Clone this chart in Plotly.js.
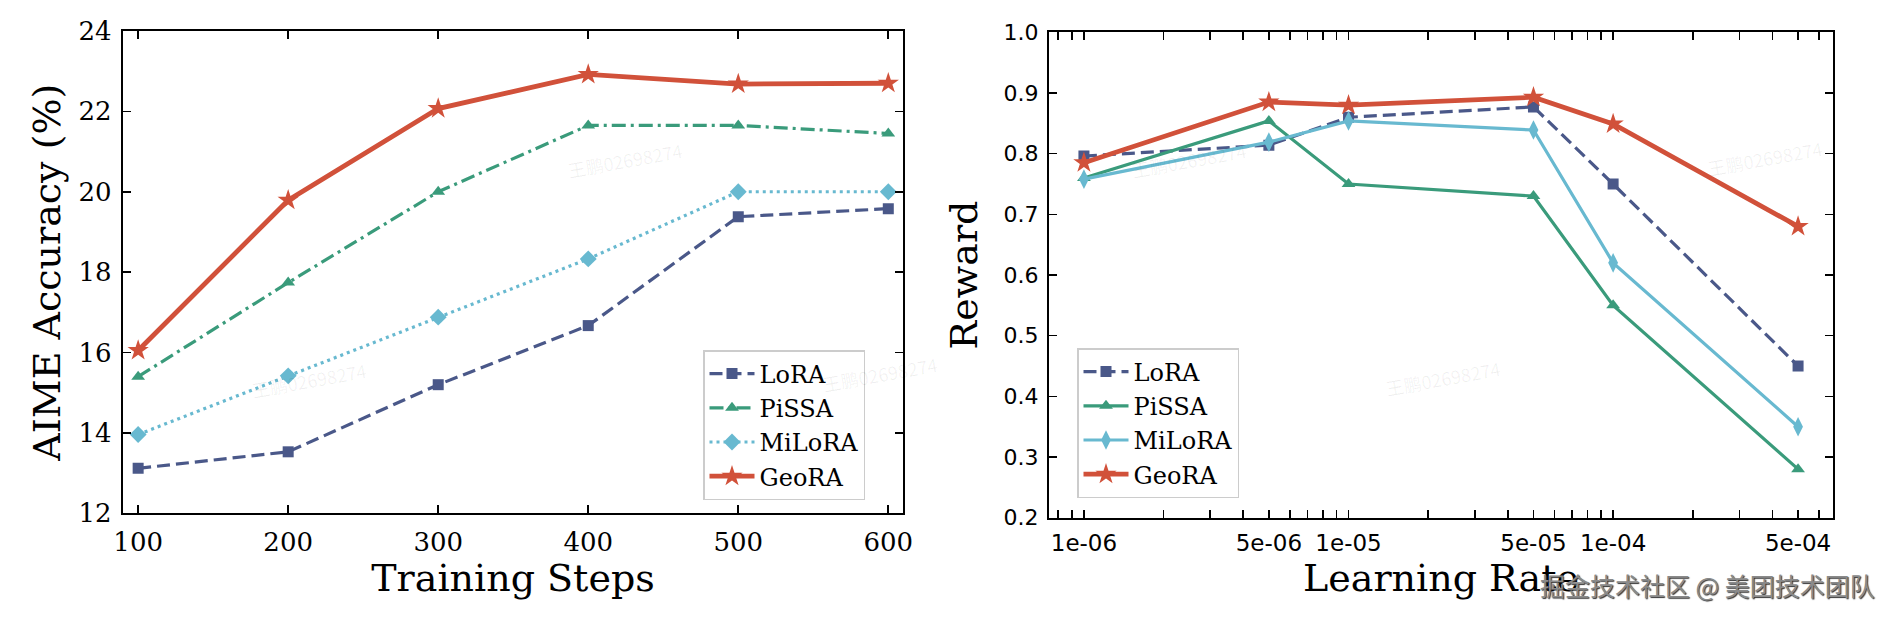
<!DOCTYPE html>
<html>
<head>
<meta charset="utf-8">
<script src="https://cdn.plot.ly/plotly-3.0.1.min.js"></script>
<style>html,body{margin:0;padding:0;background:#fff;}#chart{width:1892px;height:618px;}</style>
</head>
<body>
<div id="chart"></div>
<script>
// ---- data ----
const steps = [100, 200, 300, 400, 500, 600];
const aimeLoRA   = [13.12, 13.53, 15.20, 16.67, 19.38, 19.58];
const aimePiSSA  = [15.40, 17.74, 20.00, 21.65, 21.65, 21.45];
const aimeMiLoRA = [13.96, 15.42, 16.88, 18.33, 20.00, 20.00];
const aimeGeoRA  = [16.05, 19.79, 22.07, 22.92, 22.68, 22.70];

const learningRates = [1e-6, 5e-6, 1e-5, 5e-5, 1e-4, 5e-4];
const lrTickText = ['1e-06', '5e-06', '1e-05', '5e-05', '1e-04', '5e-04'];
const rewardLoRA   = [0.796, 0.814, 0.860, 0.877, 0.750, 0.450];
const rewardPiSSA  = [0.760, 0.854, 0.750, 0.730, 0.550, 0.280];
const rewardMiLoRA = [0.758, 0.819, 0.854, 0.839, 0.620, 0.350];
const rewardGeoRA  = [0.785, 0.885, 0.880, 0.893, 0.849, 0.680];

const methods = ['LoRA', 'PiSSA', 'MiLoRA', 'GeoRA'];
const aimeTicks = [12, 14, 16, 18, 20, 22, 24];
const stepTicks = [100, 200, 300, 400, 500, 600];
const rewardTicks = [0.2, 0.3, 0.4, 0.5, 0.6, 0.7, 0.8, 0.9, 1.0];

// ---- styles ----
const colors = {LoRA: '#4a5889', PiSSA: '#3a9b7b', MiLoRA: '#68b9d0', GeoRA: '#d1513a'};
const serif = 'DejaVu Serif, serif';
const sans = 'DejaVu Sans, sans-serif';

const leftStyle = {
  LoRA:   {dash: '13px,6px',         width: 3.2, symbol: 'square',      size: 11},
  PiSSA:  {dash: '14px,5px,3px,5px', width: 3.2, symbol: 'triangle-up', size: 12},
  MiLoRA: {dash: '3px,4px',          width: 3.2, symbol: 'diamond',     size: 13},
  GeoRA:  {dash: 'solid',            width: 4.8, symbol: 'star',        size: 16}
};
const rightStyle = {
  LoRA:   {dash: '13px,6px', width: 3.2, symbol: 'square',       size: 11},
  PiSSA:  {dash: 'solid',    width: 3.2, symbol: 'triangle-up',  size: 12},
  MiLoRA: {dash: 'solid',    width: 3.2, symbol: 'diamond-tall', size: 14},
  GeoRA:  {dash: 'solid',    width: 4.8, symbol: 'star',         size: 16}
};
const aimeData = {LoRA: aimeLoRA, PiSSA: aimePiSSA, MiLoRA: aimeMiLoRA, GeoRA: aimeGeoRA};
const rewardData = {LoRA: rewardLoRA, PiSSA: rewardPiSSA, MiLoRA: rewardMiLoRA, GeoRA: rewardGeoRA};

const traces = [];
methods.forEach(m => {
  const s = leftStyle[m];
  traces.push({
    x: steps, y: aimeData[m], name: m, xaxis: 'x', yaxis: 'y', legend: 'legend',
    mode: 'lines+markers', line: {color: colors[m], dash: s.dash, width: s.width},
    marker: {symbol: s.symbol, size: s.size, color: colors[m]}
  });
});
methods.forEach(m => {
  const s = rightStyle[m];
  traces.push({
    x: learningRates, y: rewardData[m], name: m, xaxis: 'x2', yaxis: 'y2', legend: 'legend2',
    mode: 'lines+markers', line: {color: colors[m], dash: s.dash, width: s.width},
    marker: {symbol: s.symbol, size: s.size, color: colors[m]}
  });
});

// log-axis tick positions: labelled majors plus unlabelled minors
const lrTickVals = [];
const lrTickLabels = [];
for (let e = -7; e <= -3; e++) {
  for (let k = 1; k <= 9; k++) {
    const v = k * Math.pow(10, e);
    const lg = Math.log10(v);
    if (lg < -6.132 || lg > -3.169) continue;
    lrTickVals.push(v);
    const idx = learningRates.findIndex(r => Math.abs(r - v) / v < 1e-6);
    lrTickLabels.push(idx >= 0 ? lrTickText[idx] : '');
  }
}

const axCommon = {
  showline: true, linecolor: '#000', linewidth: 2, mirror: 'allticks',
  ticks: 'inside', ticklen: 8, tickwidth: 1.6, tickcolor: '#000',
  showgrid: false, zeroline: false, fixedrange: true
};

const watermarks = [[563,135],[247,380],[880,374],[1189,135],[1505,378],[1827,133]].map(p => ({
  text: '王鹏02698274', xref: 'paper', yref: 'paper', x: p[0]/1892, y: 1 - p[1]/618,
  showarrow: false, textangle: -10,
  font: {family: 'Noto Sans CJK SC, sans-serif', size: 18, color: 'rgba(0,0,0,0.06)'}
}));

const legendCommon = {
  xanchor: 'left', yanchor: 'top',
  bgcolor: 'rgba(255,255,255,0.85)', bordercolor: '#cccccc', borderwidth: 1.5,
  font: {family: serif, size: 24, color: '#000'}, itemwidth: 45, tracegroupgap: 0
};

const layout = {
  width: 1892, height: 618,
  margin: {l: 0, r: 0, t: 0, b: 0},
  paper_bgcolor: '#fff', plot_bgcolor: '#fff',
  showlegend: true,
  xaxis: Object.assign({}, axCommon, {
    domain: [122.7/1892, 903.3/1892], range: [89.7, 610], anchor: 'y',
    tickvals: stepTicks, ticktext: stepTicks.map(String),
    tickfont: {family: serif, size: 26, color: '#000'}, ticklabelstandoff: 4,
    title: {text: 'Training Steps', font: {family: serif, size: 38, color: '#000'}, standoff: 7}
  }),
  yaxis: Object.assign({}, axCommon, {
    domain: [(618-513.3)/618, (618-31)/618], range: [12, 24], anchor: 'x',
    tickvals: aimeTicks, ticktext: aimeTicks.map(String),
    tickfont: {family: serif, size: 26, color: '#000'}, ticklabelstandoff: 4,
    title: {text: 'AIME Accuracy (%)', font: {family: serif, size: 38, color: '#000'}, standoff: 6}
  }),
  xaxis2: Object.assign({}, axCommon, {
    type: 'log', domain: [1049/1892, 1833/1892], range: [-6.132, -3.169], anchor: 'y2',
    tickmode: 'array', tickvals: lrTickVals, ticktext: lrTickLabels,
    tickfont: {family: sans, size: 23, color: '#000'}, ticklabelstandoff: 4,
    title: {text: 'Learning Rate', font: {family: serif, size: 38, color: '#000'}, standoff: 7}
  }),
  yaxis2: Object.assign({}, axCommon, {
    domain: [(618-517.7)/618, (618-32.3)/618], range: [0.2, 1.0], anchor: 'x2',
    tickvals: rewardTicks, ticktext: rewardTicks.map(v => v.toFixed(1)),
    tickfont: {family: sans, size: 22, color: '#000'}, ticklabelstandoff: 4,
    title: {text: 'Reward', font: {family: serif, size: 38, color: '#000'}, standoff: 14}
  }),
  legend: Object.assign({}, legendCommon, {x: 703/1892, y: 1 - 350/618}),
  legend2: Object.assign({}, legendCommon, {x: 1077/1892, y: 1 - 348/618}),
  annotations: watermarks.concat([{
    text: '掘金技术社区 @ 美团技术团队', xref: 'paper', yref: 'paper',
    x: 1538/1892, y: 1 - 585/618, xanchor: 'left', yanchor: 'middle', showarrow: false,
    font: {family: 'Noto Sans CJK SC, sans-serif', size: 25, color: '#8a8a8a', shadow: '1px 1px 1px #333'}
  }])
};

Plotly.newPlot('chart', traces, layout, {staticPlot: true, displayModeBar: false});
</script>
</body>
</html>
